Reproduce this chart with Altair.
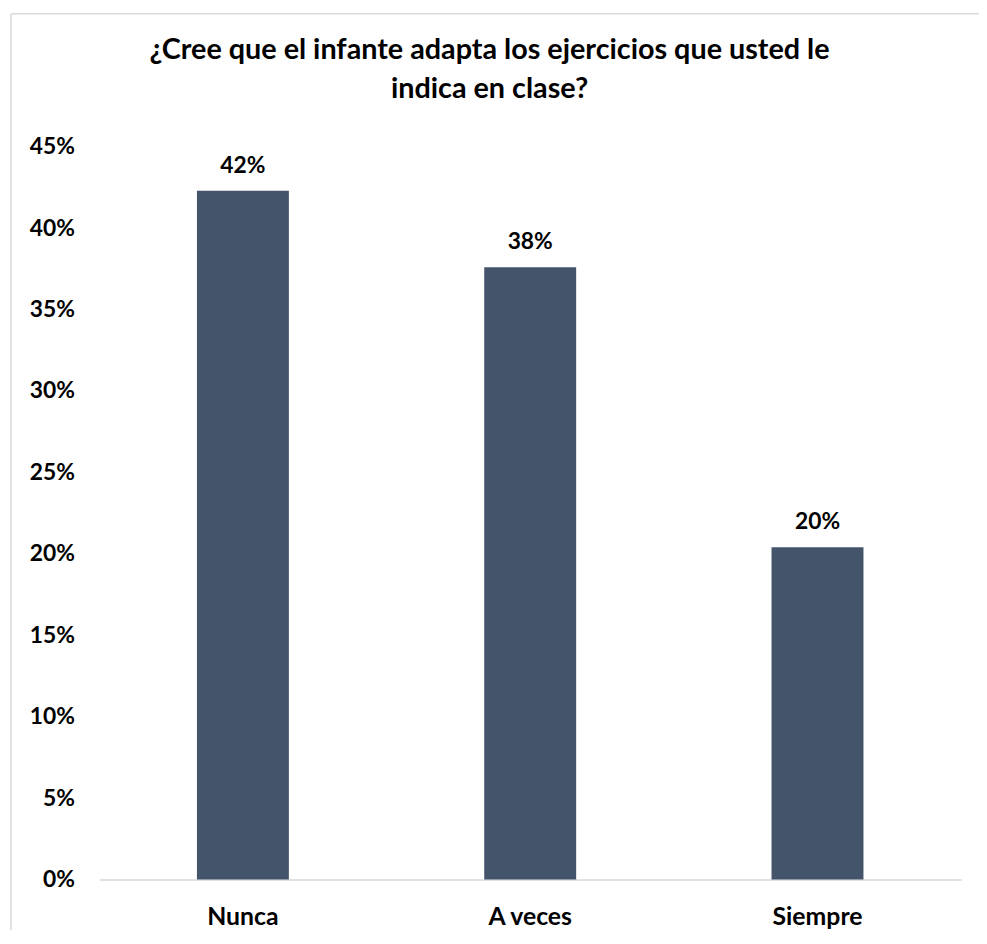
import altair as alt
import pandas as pd

categories = ["Nunca", "A veces", "Siempre"]
values = [0.423, 0.376, 0.204]
value_labels = ["42%", "38%", "20%"]
y_ticks = [0, 0.05, 0.10, 0.15, 0.20, 0.25, 0.30, 0.35, 0.40, 0.45]
title_lines = ["¿Cree que el infante adapta los ejercicios que usted le", "indica en clase?"]

df = pd.DataFrame({"cat": categories, "val": values, "lab": value_labels})

FONT = "Lato"
BAR = "#44546A"
GREY = "#d9d9d9"

x_enc = alt.X(
    "cat:N", sort=categories, title=None,
    scale=alt.Scale(paddingInner=0.68, paddingOuter=0.34),
    axis=alt.Axis(labelAngle=0, labelFont=FONT, labelFontSize=25, labelFontWeight="bold",
                  labelColor="#000000", labelPadding=25, ticks=False,
                  domainColor=GREY, domainWidth=1.5),
)
y_enc = alt.Y(
    "val:Q", title=None,
    scale=alt.Scale(domain=[0, 0.45]),
    axis=alt.Axis(values=y_ticks, format=".0%", grid=False, domain=False, ticks=False,
                  labelPadding=25, labelFont=FONT, labelFontSize=23, labelFontWeight="bold",
                  labelColor="#000000"),
)

bars = alt.Chart(df).mark_bar(color=BAR).encode(x=x_enc, y=y_enc)

text = alt.Chart(df).mark_text(
    dy=-18, baseline="alphabetic", font=FONT, fontSize=23, fontWeight="bold", color="#000000"
).encode(x=alt.X("cat:N", sort=categories), y=alt.Y("val:Q"), text="lab:N")

frame_df = pd.DataFrame({"f": [0]})
frame_top = alt.Chart(frame_df).mark_rule(color=GREY, strokeWidth=1.5).encode(
    x=alt.value(-89), x2=alt.value(1500), y=alt.value(-134)
)
frame_left = alt.Chart(frame_df).mark_rule(color=GREY, strokeWidth=1.5).encode(
    x=alt.value(-89), y=alt.value(-134), y2=alt.value(1500)
)

chart = alt.layer(frame_top, frame_left, bars, text).properties(
    width=869, height=739,
    background="white",
    autosize=alt.AutoSizeParams(type="none"),
    padding={"left": 92, "top": 136, "right": 18, "bottom": 47},
    title=alt.TitleParams(text=title_lines, font=FONT, fontSize=29, fontWeight="bold",
                          color="#000000", anchor="middle", frame="group", dx=-41,
                          offset=-92, lineHeight=40),
).configure_view(strokeWidth=0, strokeOpacity=0)

chart.save("out.html", embed_options={"renderer": "svg", "actions": False})
